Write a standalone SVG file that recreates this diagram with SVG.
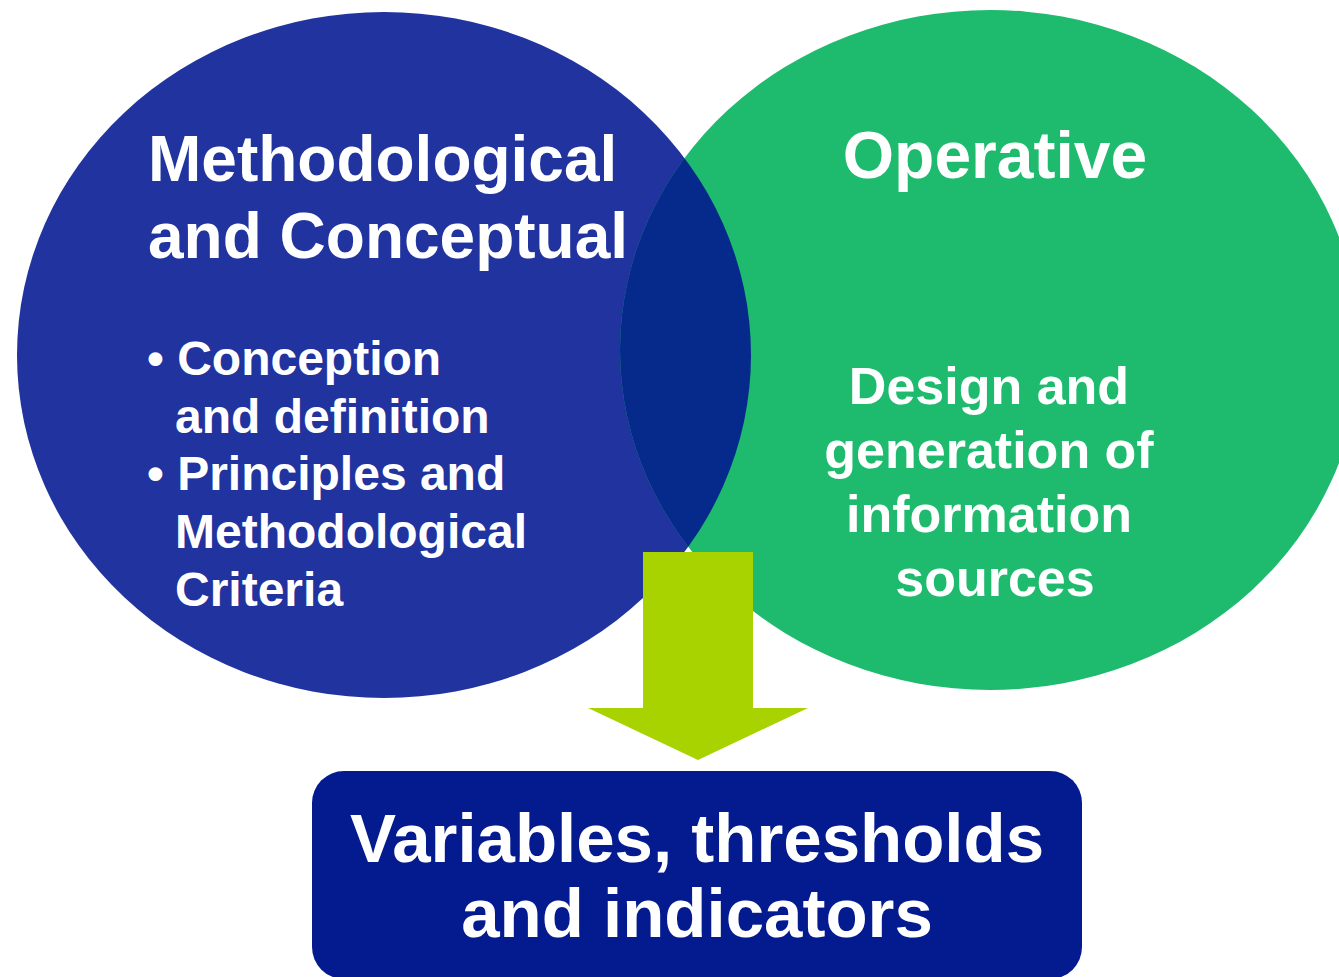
<svg xmlns="http://www.w3.org/2000/svg" width="1339" height="977" viewBox="0 0 1339 977">
<style>
text{font-family:"Liberation Sans",Arial,sans-serif;font-weight:bold;fill:#fff}
.title{font-size:64px}
.bul{font-size:48px}
.rt{font-size:52px;text-anchor:middle}
.box{font-size:69px;text-anchor:middle}
</style>
<defs>
<clipPath id="blueClip"><ellipse cx="384" cy="355" rx="367" ry="343"/></clipPath>
</defs>
<rect width="1339" height="977" fill="#fff"/>
<g id="node-methodological">
<ellipse cx="384" cy="355" rx="367" ry="343" fill="#20339E"/>
</g>
<g id="node-operative">
<ellipse cx="990" cy="350" rx="370" ry="340" fill="#1EBB6E"/>
</g>
<g id="overlap">
<ellipse cx="990" cy="350" rx="370" ry="340" fill="#062A8C" clip-path="url(#blueClip)"/>
</g>
<g id="text-methodological">
<text class="title" x="148" y="181">Methodological</text>
<text class="title" x="148" y="258">and Conceptual</text>
<text class="bul" x="147" y="375">• Conception</text>
<text class="bul" x="175" y="433">and definition</text>
<text class="bul" x="147" y="490">• Principles and</text>
<text class="bul" x="175" y="548">Methodological</text>
<text class="bul" x="175" y="606">Criteria</text>
</g>
<g id="text-operative">
<text class="title" x="995" y="178" text-anchor="middle" style="font-size:66px">Operative</text>
<text class="rt" x="989" y="404">Design and</text>
<text class="rt" x="989" y="468">generation of</text>
<text class="rt" x="989" y="532">information</text>
<text class="rt" x="995" y="596">sources</text>
</g>
<g id="connectors">
<polygon points="643,552 753,552 753,708 808,708 698,760 588,708 643,708" fill="#A8D200"/>
</g>
<g id="node-result">
<rect x="312" y="771" width="770" height="208" rx="32" ry="32" fill="#041A8F"/>
<text class="box" x="697" y="862">Variables, thresholds</text>
<text class="box" x="697" y="937">and indicators</text>
</g>
</svg>
